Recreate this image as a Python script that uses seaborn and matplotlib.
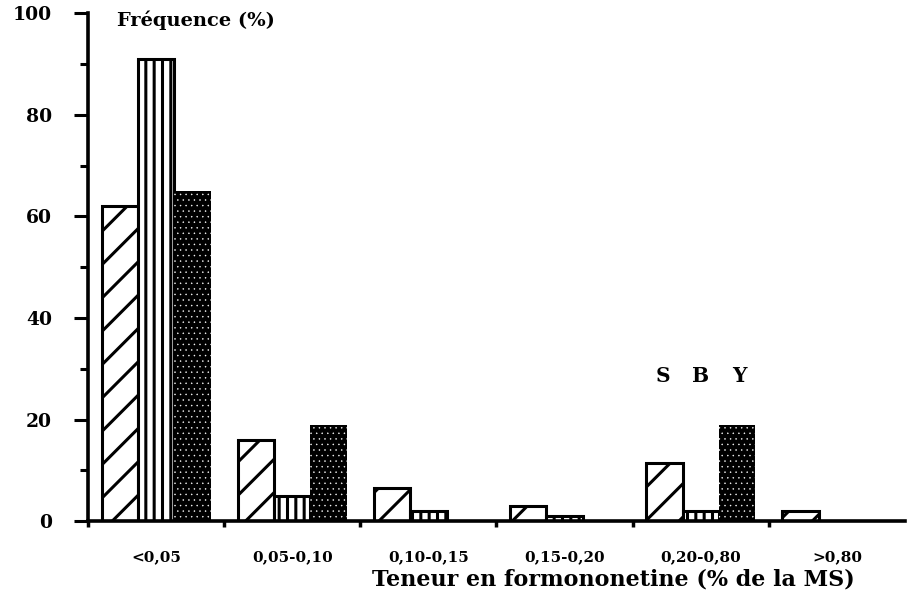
import numpy as np
import pandas as pd
import matplotlib
matplotlib.use("Agg")
import matplotlib.pyplot as plt
import seaborn as sns

# DATA
categories = ["<0,05", "0,05-0,10", "0,10-0,15", "0,15-0,20", "0,20-0,80", ">0,80"]
series = ["S", "B", "Y"]
freq_S = [62, 16, 6.5, 3, 11.5, 2]
freq_B = [91, 5, 2, 1, 2, 0]
freq_Y = [65, 19, 0, 0, 19, 0]
y_ticks = [0, 20, 40, 60, 80, 100]

df = pd.DataFrame({
    "classe": categories * 3,
    "serie": ["S"] * 6 + ["B"] * 6 + ["Y"] * 6,
    "freq": freq_S + freq_B + freq_Y,
})

sns.set_theme(style="ticks")
plt.rcParams["font.family"] = ["DejaVu Serif"]
plt.rcParams["font.weight"] = "bold"
plt.rcParams["hatch.linewidth"] = 2.2
for key in ["text.color", "xtick.color", "ytick.color", "axes.labelcolor", "axes.edgecolor"]:
    plt.rcParams[key] = "black"

fig = plt.figure(figsize=(9.09, 5.95), dpi=100)
ax = fig.add_axes([0.0968, 0.124, 0.8988, 0.854])

sns.barplot(data=df, x="classe", y="freq", hue="serie", order=categories,
            hue_order=series, palette=["white"] * 3, edgecolor="black",
            linewidth=2.2, width=0.8, legend=False, ax=ax, saturation=1)

# patterns: S hatched, B vertical stripes, Y black with white dots
for bar in ax.containers[0]:
    bar.set_hatch("/")
for bar in ax.containers[1]:
    bar.set_hatch("||")
for bar in ax.containers[2]:
    bar.set_facecolor("black")
    bar.set_edgecolor("white")
    bar.set_linewidth(0)
    bar.set_hatch("...")
    if hasattr(bar, "set_hatch_linewidth"):
        bar.set_hatch_linewidth(0.3)

ax.set_xlim(-0.5, 5.5)
ax.set_ylim(0, 100)

# y axis: labelled every 20, small ticks every 10
ax.set_yticks(y_ticks)
ax.set_yticklabels([str(v) for v in y_ticks], fontsize=13.5, fontweight="bold")
ax.set_yticks(np.arange(10, 100, 20), minor=True)
ax.tick_params(axis="y", which="major", direction="out", length=10, width=2.2, pad=16)
ax.tick_params(axis="y", which="minor", direction="out", length=6, width=2.2)

# x axis: small ticks between classes, labels under the class centres
ax.set_xticks(np.arange(-0.5, 5, 1))
ax.set_xticklabels([])
ax.tick_params(axis="x", which="major", direction="out", length=4, width=2.5)
ax.set_xticks(np.arange(len(categories)), minor=True)
ax.set_xticklabels(categories, minor=True, fontsize=11, fontweight="bold")
ax.tick_params(axis="x", which="minor", length=0, pad=21)

ax.set_xlabel("")
ax.set_ylabel("")
for side in ["top", "right"]:
    ax.spines[side].set_visible(False)
for side in ["left", "bottom"]:
    ax.spines[side].set_linewidth(2.6)

ax.text(0.035, 0.985, "Fréquence (%)", transform=ax.transAxes, fontsize=14,
        fontweight="bold", va="center", ha="left")
fig.text(0.675, 0.026, "Teneur en formononetine (% de la MS)", fontsize=16,
         fontweight="bold", ha="center", va="center")

# series letters above the 0,20-0,80 group
for k, name in enumerate(series):
    ax.text(4 + (k - 1) * 0.28, 28.5, name, fontsize=14.5, fontweight="bold",
            ha="center", va="center")

fig.savefig("out.png", dpi=100)
